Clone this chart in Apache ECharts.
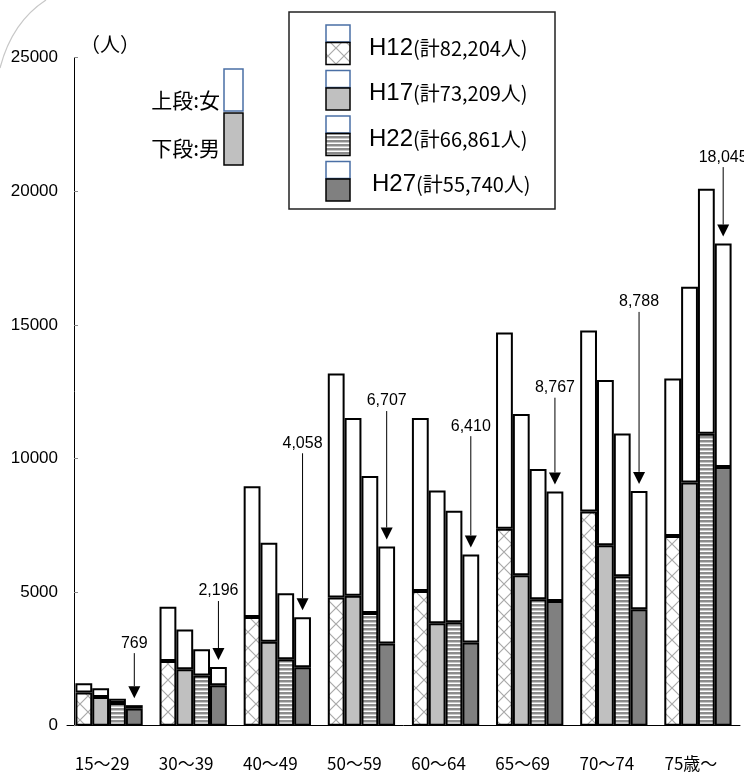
<!DOCTYPE html>
<html><head><meta charset="utf-8">
<script src="https://cdn.jsdelivr.net/npm/echarts@6/dist/echarts.min.js"></script>
<style>html,body{margin:0;padding:0;background:#fff}#c{width:744px;height:776px}</style>
</head><body><div id="c"></div>
<script>
// ---- data ----
const categories = ['15～29','30～39','40～49','50～59','60～64','65～69','70～74','75歳～'];
const years = ['H12','H17','H22','H27'];
const yearTotalText = ['(計82,204人)','(計73,209人)','(計66,861人)','(計55,740人)'];
// totals (male + female) per age group
const totalH12 = [1590, 4450, 8960, 13180, 11520, 14720, 14790, 12994];
const totalH17 = [1400, 3600, 6850, 11520, 8800, 11670, 12940, 16429];
const totalH22 = [1010, 2865, 4955, 9345, 8045, 9605, 10940, 20096];
const totalH27 = [769, 2196, 4058, 6707, 6410, 8767, 8788, 18045];
// male (lower segment)
const maleH12 = [1240, 2420, 4070, 4800, 5040, 7370, 8020, 7100];
const maleH17 = [1075, 2110, 3140, 4860, 3830, 5630, 6750, 9100];
const maleH22 = [850, 1880, 2490, 4220, 3875, 4735, 5590, 10930];
const maleH27 = [640, 1510, 2190, 3080, 3115, 4670, 4360, 9680];
const yTicks = [0, 5000, 10000, 15000, 20000, 25000];

// ---- layout (not data) ----
const calloutTextAt = [3090, 5040, 10570, 12150, 11210, 12650, 15860, 21280];

// ---- patterns ----
function makeCross(){
  const c = document.createElement('canvas'); c.width = 16; c.height = 16;
  const g = c.getContext('2d');
  g.fillStyle = '#fff'; g.fillRect(0,0,16,16);
  g.strokeStyle = '#a9a9a9'; g.lineWidth = 1.2;
  g.beginPath(); g.moveTo(-2,-2); g.lineTo(18,18); g.moveTo(18,-2); g.lineTo(-2,18); g.stroke();
  return c;
}
function makeStripes(){
  const c = document.createElement('canvas'); c.width = 4; c.height = 4;
  const g = c.getContext('2d');
  g.fillStyle = '#fff'; g.fillRect(0,0,4,4);
  g.fillStyle = '#8c8c8c'; g.fillRect(0,0,4,2);
  g.fillStyle = '#c8c8c8'; g.fillRect(0,2,4,1);
  return c;
}
const crossFill = {image: makeCross(), repeat: 'repeat'};
const stripeFill = {image: makeStripes(), repeat: 'repeat'};
const maleFills = [crossFill, '#c0c0c0', stripeFill, '#808080'];
const totals = [totalH12, totalH17, totalH22, totalH27];
const males = [maleH12, maleH17, maleH22, maleH27];

const series = [];
years.forEach((y, k) => {
  series.push({
    type: 'bar', name: y + '男', stack: y, data: males[k],
    barGap: '0%', barCategoryGap: '20%',
    itemStyle: {color: maleFills[k], borderColor: '#000', borderWidth: 2},
    emphasis: {disabled: true}, silent: true
  });
  series.push({
    type: 'bar', name: y + '女', stack: y, data: totals[k].map((t, i) => t - males[k][i]),
    barGap: '0%', barCategoryGap: '20%',
    itemStyle: {color: '#fff', borderColor: '#000', borderWidth: 2},
    emphasis: {disabled: true}, silent: true
  });
});

series.push({
  type: 'custom', z: 10, clip: false, silent: true,
  data: totalH27.map((v, i) => [i, v, calloutTextAt[i]]),
  renderItem: function(params, api){
    const i = api.value(0), top = api.value(1), tv = api.value(2);
    const c = api.coord([i, top]);
    const band = api.size([1, 0])[0];
    const barW = band * 0.8 / 4;
    const x = c[0] + 1.5 * barW;
    const tip = c[1] - 7;
    const triTop = tip - 12;
    const ty = api.coord([i, tv])[1];
    return {type: 'group', children: [
      {type: 'line', shape: {x1: x, y1: ty + 10, x2: x, y2: triTop}, style: {stroke: '#000', lineWidth: 1}},
      {type: 'polygon', shape: {points: [[x - 6, triTop], [x + 6, triTop], [x, tip]]}, style: {fill: '#000'}},
      {type: 'text', style: {text: top.toLocaleString('en-US'), x: x, y: ty, align: 'center', verticalAlign: 'middle',
        font: '16px "Liberation Sans", Arial, sans-serif', fill: '#000'}}
    ]};
  }
});

// ---- legend & annotations via graphic ----
const graphic = [];
graphic.push({type: 'bezierCurve', shape: {x1: 0, y1: 68, x2: 46, y2: 0, cpx1: 12, cpy1: 22},
  style: {stroke: '#c8c8c8', lineWidth: 1.2, fill: null}, silent: true});
graphic.push({type: 'rect', shape: {x: 289, y: 12, width: 266, height: 197},
  style: {fill: '#fff', stroke: '#222', lineWidth: 1.5}, z: 20});
years.forEach((y, k) => {
  const rt = 25 + k * 45.5;
  graphic.push({type: 'rect', shape: {x: 326, y: rt, width: 24, height: 17},
    style: {fill: '#fff', stroke: '#4a6fa5', lineWidth: 1.5}, z: 21});
  graphic.push({type: 'rect', shape: {x: 326, y: rt + 17.5, width: 24, height: 22},
    style: {fill: maleFills[k], stroke: '#000', lineWidth: 1.5}, z: 21});
  graphic.push({type: 'text', x: k === 3 ? 372 : 369, y: rt + 23, z: 21,
    style: {text: '{a|' + y + '}{b|' + yearTotalText[k] + '}', verticalAlign: 'middle', fill: '#000',
      rich: {a: {fontSize: 24, fontFamily: '"Liberation Sans", Arial, sans-serif'},
             b: {fontSize: 20, fontFamily: '"Noto Sans CJK JP", sans-serif'}}}});
});
// unit label
graphic.push({type: 'text', x: 110, y: 44, style: {text: '（人）', fontSize: 20, fontFamily: '"Noto Sans CJK JP", sans-serif',
  align: 'center', verticalAlign: 'middle', fill: '#000'}});
// inset key
graphic.push({type: 'rect', shape: {x: 224, y: 69, width: 19, height: 42}, style: {fill: '#fff', stroke: '#4a6fa5', lineWidth: 1.5}});
graphic.push({type: 'rect', shape: {x: 224, y: 113, width: 19, height: 52}, style: {fill: '#c0c0c0', stroke: '#000', lineWidth: 1.5}});
graphic.push({type: 'text', x: 220, y: 100, style: {text: '上段:女', fontSize: 21, fontFamily: '"Noto Sans CJK JP", sans-serif',
  align: 'right', verticalAlign: 'middle', fill: '#000'}});
graphic.push({type: 'text', x: 220, y: 148, style: {text: '下段:男', fontSize: 21, fontFamily: '"Noto Sans CJK JP", sans-serif',
  align: 'right', verticalAlign: 'middle', fill: '#000'}});

const chart = echarts.init(document.getElementById('c'), null, {renderer: 'canvas'});
chart.setOption({
  animation: false,
  backgroundColor: '#fff',
  grid: {left: 67, right: 4, top: 57.7, bottom: 50.3, containLabel: false},
  xAxis: {
    type: 'category', data: categories,
    axisLine: {show: true, lineStyle: {color: '#000', width: 1}},
    axisTick: {show: false},
    axisLabel: {color: '#000', fontSize: 17, fontFamily: '"Noto Sans CJK JP", sans-serif', margin: 29, padding: [0, 14, 0, 0]}
  },
  yAxis: {
    type: 'value', min: yTicks[0], max: yTicks[yTicks.length - 1], interval: yTicks[1] - yTicks[0], offset: -7,
    axisLine: {show: true, lineStyle: {color: '#000', width: 1}},
    axisTick: {show: true, inside: true, length: 4, lineStyle: {color: '#888'}},
    splitLine: {show: false},
    axisLabel: {color: '#000', fontSize: 17, fontFamily: '"Liberation Sans", Arial, sans-serif', margin: 16,
      formatter: v => String(v)}
  },
  series: series,
  graphic: graphic
});
</script>
</body></html>
